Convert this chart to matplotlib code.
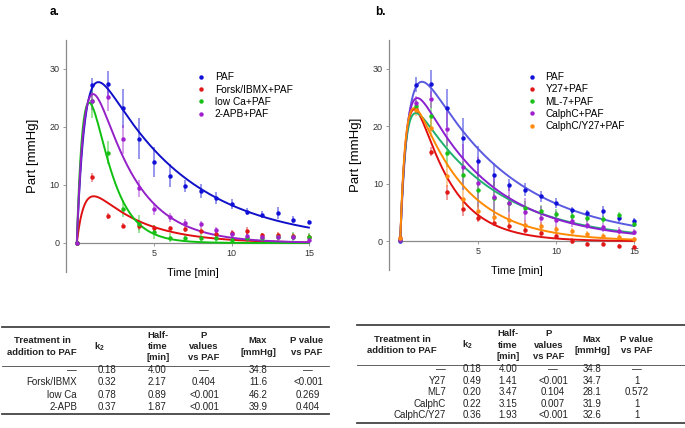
import numpy as np
import matplotlib
matplotlib.use("Agg")
from matplotlib import pyplot as plt
from matplotlib.lines import Line2D

plt.rcParams['font.family'] = ['Liberation Sans', 'DejaVu Sans']
plt.rcParams['mathtext.fontset'] = 'custom'
plt.rcParams['mathtext.rm'] = 'Liberation Sans'
plt.rcParams['mathtext.bf'] = 'Liberation Sans:bold'

# time points (min)
t = np.arange(16)

# panel a data (mean, error)
paf = [0, 27.2, 27.4, 23.2, 18.0, 13.9, 11.6, 9.8, 9.0, 7.8, 6.7, 5.4, 4.9, 5.2, 4.0, 3.6]
paf_err = [0, 1.3, 2.3, 3.3, 3.5, 2.6, 2.0, 1.0, 1.2, 1.0, 0.9, 0.6, 0.6, 1.0, 0.6, 0.4]
forsk = [0, 11.3, 4.7, 3.0, 2.9, 2.6, 2.5, 2.4, 2.1, 1.5, 1.8, 2.0, 1.3, 1.4, 1.2, 1.1]
forsk_err = [0, 0.8, 0.5, 0.5, 0.6, 0.5, 0.5, 0.5, 0.5, 0.4, 0.5, 0.7, 0.5, 0.5, 0.5, 0.5]
lowca = [0, 24.4, 15.6, 5.9, 3.3, 1.9, 0.9, 0.8, 0.9, 0.8, 0.6, 0.8, 0.9, 1.0, 1.1, 1.0]
lowca_err = [0, 2.8, 2.0, 1.5, 1.5, 1.2, 0.8, 0.6, 0.6, 0.6, 0.6, 0.8, 0.8, 0.8, 0.8, 0.8]
apb = [0, 24.5, 25.1, 17.9, 9.4, 5.9, 4.4, 3.5, 3.2, 2.3, 1.6, 1.2, 1.0, 1.1, 1.0, 0.6]
apb_err = [0, 1.5, 2.3, 2.5, 1.5, 1.0, 0.7, 0.6, 0.6, 0.5, 0.5, 0.5, 0.4, 0.4, 0.4, 0.3]

# panel b data
y27 = [0.5, 23.0, 15.6, 8.5, 5.6, 4.1, 3.2, 2.6, 2.0, 1.4, 1.0, 0.1, -0.5, -0.5, -0.8, -1.0]
y27_err = [0, 0.8, 0.8, 1.3, 1.2, 0.7, 0.6, 0.6, 0.6, 0.5, 0.5, 0.5, 0.4, 0.4, 0.4, 0.4]
ml7 = [0.3, 23.6, 21.7, 15.4, 11.5, 9.0, 7.5, 6.6, 5.8, 5.3, 4.8, 4.4, 4.0, 3.8, 4.5, 3.0]
ml7_err = [0, 1.0, 2.5, 2.5, 2.5, 3.0, 3.0, 1.5, 1.2, 1.0, 0.8, 0.8, 0.6, 0.6, 0.6, 0.6]
calph = [0.3, 24.0, 24.7, 19.6, 12.9, 10.1, 7.7, 6.6, 5.1, 4.1, 3.7, 3.5, 2.9, 2.4, 1.8, 1.6]
calph_err = [0, 1.2, 1.5, 3.0, 4.0, 4.5, 4.0, 3.0, 2.5, 2.0, 1.5, 1.0, 0.8, 0.8, 0.6, 0.5]
calphy = [0.5, 22.8, 19.7, 11.4, 7.4, 5.3, 4.2, 3.7, 2.9, 2.6, 2.1, 1.7, 1.2, 1.0, 0.7, 0.4]
calphy_err = [0, 1.0, 1.5, 2.0, 1.5, 1.2, 1.0, 1.0, 0.8, 0.8, 0.6, 0.6, 0.5, 0.5, 0.5, 0.4]

# fitted curve parameters A*(exp(-k2 t) - exp(-k1 t))
fit_a_A = [39.5, 13.6, 76.3, 49.7]
fit_a_k1 = [1.85, 2.0, 1.9, 1.87]
fit_a_k2 = [0.18, 0.32, 0.78, 0.40]
fit_b_A = [39.5, 43.1, 29.3, 34.9, 35.1]
fit_b_k1 = [1.85, 2.23, 2.85, 2.4, 2.68]
fit_b_k2 = [0.18, 0.45, 0.20, 0.22, 0.32]

labels_a = ['PAF', 'Forsk/IBMX+PAF', 'low Ca+PAF', '2-APB+PAF']
labels_b = ['PAF', 'Y27+PAF', 'ML-7+PAF', 'CalphC+PAF', 'CalphC/Y27+PAF']
pt_a = ['#1010d8', '#e01818', '#18c018', '#a020d0']
ln_a = ['#1010c8', '#e01010', '#10c010', '#9420c8']
pt_b = ['#1010d8', '#e01818', '#18c018', '#a020d0', '#ff8c10']
ln_b = ['#5a5ae0', '#e01010', '#20b070', '#8a20d0', '#ff8a00']

# tables
tab_cols = ['Treatment in\naddition to PAF', r'$\mathbf{k_2}$', 'Half-\ntime\n[min]',
            'P\nvalues\nvs PAF', 'Max\n[mmHg]', 'P value\nvs PAF']
tab_a = [['—', '0.18', '4.00', '—', '34.8', '—'],
         ['Forsk/IBMX', '0.32', '2.17', '0.404', '11.6', '<0.001'],
         ['low Ca', '0.78', '0.89', '<0.001', '46.2', '0.269'],
         ['2-APB', '0.37', '1.87', '<0.001', '39.9', '0.404']]
tab_b = [['—', '0.18', '4.00', '—', '34.8', '—'],
         ['Y27', '0.49', '1.41', '<0.001', '34.7', '1'],
         ['ML7', '0.20', '3.47', '0.104', '28.1', '0.572'],
         ['CalphC', '0.22', '3.15', '0.007', '31.9', '1'],
         ['CalphC/Y27', '0.36', '1.93', '<0.001', '32.6', '1']]

W, H = 685, 428
fig = plt.figure(figsize=(W / 100, H / 100), dpi=100)


def fx(x):
    return x / W


def fy(y):
    return 1 - y / H


def panel(rect, series, errs, A, k1, k2, labels, pcol, lcol, leg_anchor):
    ax = fig.add_axes(rect)
    tt = np.linspace(0, 15, 400)
    for i in range(len(series)):
        ax.errorbar(t, series[i], yerr=errs[i], fmt='none', ecolor=pcol[i],
                    alpha=0.55, elinewidth=1.1, capsize=0, zorder=2)
    for i in range(len(series)):
        curve = A[i] * (np.exp(-k2[i] * tt) - np.exp(-k1[i] * tt))
        ax.plot(tt, curve, color=lcol[i], lw=1.4, zorder=3)
    for i in range(len(series)):
        ax.plot(t, series[i], 'o', color=pcol[i], ms=3.2, mec='none',
                label=labels[i], zorder=4)
    ax.set_xlim(-0.7, 15.3)
    ax.set_ylim(-5, 35)
    ax.spines['top'].set_visible(False)
    ax.spines['right'].set_visible(False)
    ax.spines['bottom'].set_position(('data', 0))
    ax.spines['bottom'].set_bounds(0, 15)
    for s in ['left', 'bottom']:
        ax.spines[s].set_color('#8a8a8a')
        ax.spines[s].set_linewidth(0.9)
    ax.spines['bottom'].set_zorder(1)
    ax.set_xticks([5, 10, 15])
    ax.set_yticks([0, 10, 20, 30])
    ax.tick_params(length=2.5, width=0.6, colors='#8a8a8a', labelsize=6.5,
                   labelcolor='#333333', pad=2)
    ax.set_xlabel('Time [min]', fontsize=8)
    ax.set_ylabel('Part [mmHg]', fontsize=9.5)
    ax.xaxis.set_label_coords(0.5125, 0.018)
    ax.yaxis.set_label_coords(-0.108, 0.5)
    ax.legend(loc='upper left', bbox_to_anchor=leg_anchor, frameon=False,
              fontsize=7.3, handlelength=0.6, handletextpad=1.0,
              labelspacing=0.22, borderaxespad=0, borderpad=0)
    return ax


panel([fx(66), fy(272), 247.5 / W, 232 / H],
      [paf, forsk, lowca, apb], [paf_err, forsk_err, lowca_err, apb_err],
      fit_a_A, fit_a_k1, fit_a_k2, labels_a, pt_a, ln_a, (0.535, 0.86))
panel([fx(389.3), fy(270), 249.6 / W, 230 / H],
      [paf, y27, ml7, calph, calphy],
      [paf_err, y27_err, ml7_err, calph_err, calphy_err],
      fit_b_A, fit_b_k1, fit_b_k2, labels_b, pt_b, ln_b, (0.56, 0.86))

fig.text(fx(50), fy(12), 'a.', fontsize=8.5, fontweight='bold', va='center')
fig.text(fx(375), fy(12), 'b.', fontsize=8.5, fontweight='bold', va='center')


def table(x0, x1, ytop, yhead, ybot, colx, namex, valx, rows_y, rows):
    for y, lw in [(ytop, 1.3), (yhead, 0.6), (ybot, 1.3)]:
        fig.add_artist(Line2D([fx(x0), fx(x1)], [fy(y), fy(y)],
                              transform=fig.transFigure, color='#444444', lw=lw))
    ymid = (ytop + yhead) / 2
    for j, head in enumerate(tab_cols):
        fig.text(fx(colx[j]), fy(ymid), head, fontsize=6.8, fontweight='bold',
                 ha='center', va='center', linespacing=1.35, color='#222222')
    for r, row in zip(rows_y, rows):
        fig.text(fx(namex), fy(r), row[0], fontsize=7, ha='right',
                 va='center', color='#222222')
        for j in range(1, 6):
            fig.text(fx(valx[j]), fy(r), row[j], fontsize=7, ha='center',
                     va='center', color='#222222')


table(2, 329, 327, 366, 414,
      [42, 99, 158, 204, 258, 307], 77,
      [0, 107, 157, 204, 258, 308], [370, 382, 394.5, 406.5], tab_a)
table(357, 685, 325, 365, 423,
      [402, 467, 508, 549, 592, 637], 446,
      [0, 472, 508, 553, 592, 637], [369, 380.6, 392.2, 403.8, 415.4], tab_b)

fig.savefig('out.png', dpi=100)
